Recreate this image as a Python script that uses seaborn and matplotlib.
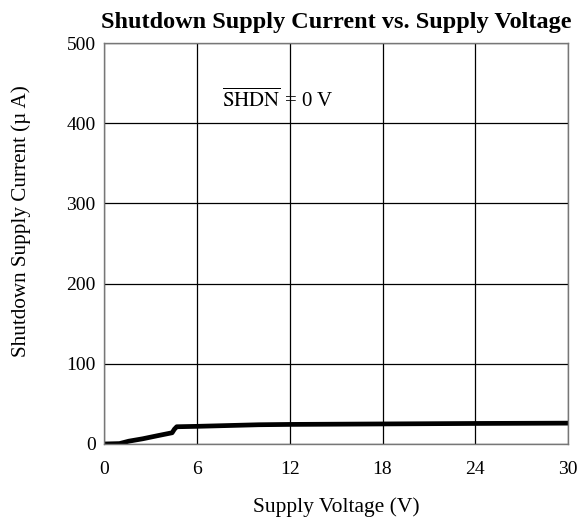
import matplotlib
matplotlib.use("Agg")
import matplotlib.pyplot as plt
import seaborn as sns
import pandas as pd

voltage = [0.0, 1.0, 1.6, 2.5, 3.5, 4.4, 4.55, 4.7, 6.0, 8.0, 10.0, 12.0, 15.0, 18.0, 21.0, 24.0, 27.0, 30.0]
current = [0.0, 0.5, 3.5, 6.5, 10.5, 14.0, 18.5, 21.5, 22.0, 23.0, 24.0, 24.4, 24.7, 25.0, 25.3, 25.6, 25.8, 26.0]

x_ticks = [0, 6, 12, 18, 24, 30]
y_ticks = [0, 100, 200, 300, 400, 500]

df = pd.DataFrame({"voltage": voltage, "current": current})

sns.set_style("white")
plt.rcParams["font.family"] = ["Liberation Serif", "DejaVu Serif"]
plt.rcParams["mathtext.fontset"] = "stix"
plt.rcParams["text.color"] = "black"
plt.rcParams["axes.labelcolor"] = "black"

fig = plt.figure(figsize=(5.78, 5.29), dpi=100)
ax = fig.add_axes([0.18, 0.1607, 0.803, 0.758])

sns.lineplot(data=df, x="voltage", y="current", color="black", linewidth=3.4, ax=ax)

ax.set_xlim(0, 30)
ax.set_ylim(0, 500)
ax.set_xticks(x_ticks)
ax.set_yticks(y_ticks)
ax.grid(True, color="black", linewidth=0.9)
for s in ax.spines.values():
    s.set_color("#777777")
    s.set_linewidth(1.0)
ax.tick_params(axis="x", labelsize=14, length=0, pad=12, colors="black")
ax.tick_params(axis="y", labelsize=14, length=0, pad=6, colors="black")

ax.set_title("Shutdown Supply Current vs. Supply Voltage", fontsize=17.5, fontweight="bold", pad=11, color="black")
ax.set_xlabel("Supply Voltage (V)", fontsize=15.5, labelpad=14, color="black")
ax.set_ylabel("Shutdown Supply Current (µ A)", fontsize=15.2, color="black")
ax.yaxis.set_label_coords(-0.158, 0.556)

ax.text(7.6, 420, r"$\overline{\mathrm{SHDN}}$ = 0 V", fontsize=15, va="baseline", color="black")

fig.savefig("out.png", dpi=100)
